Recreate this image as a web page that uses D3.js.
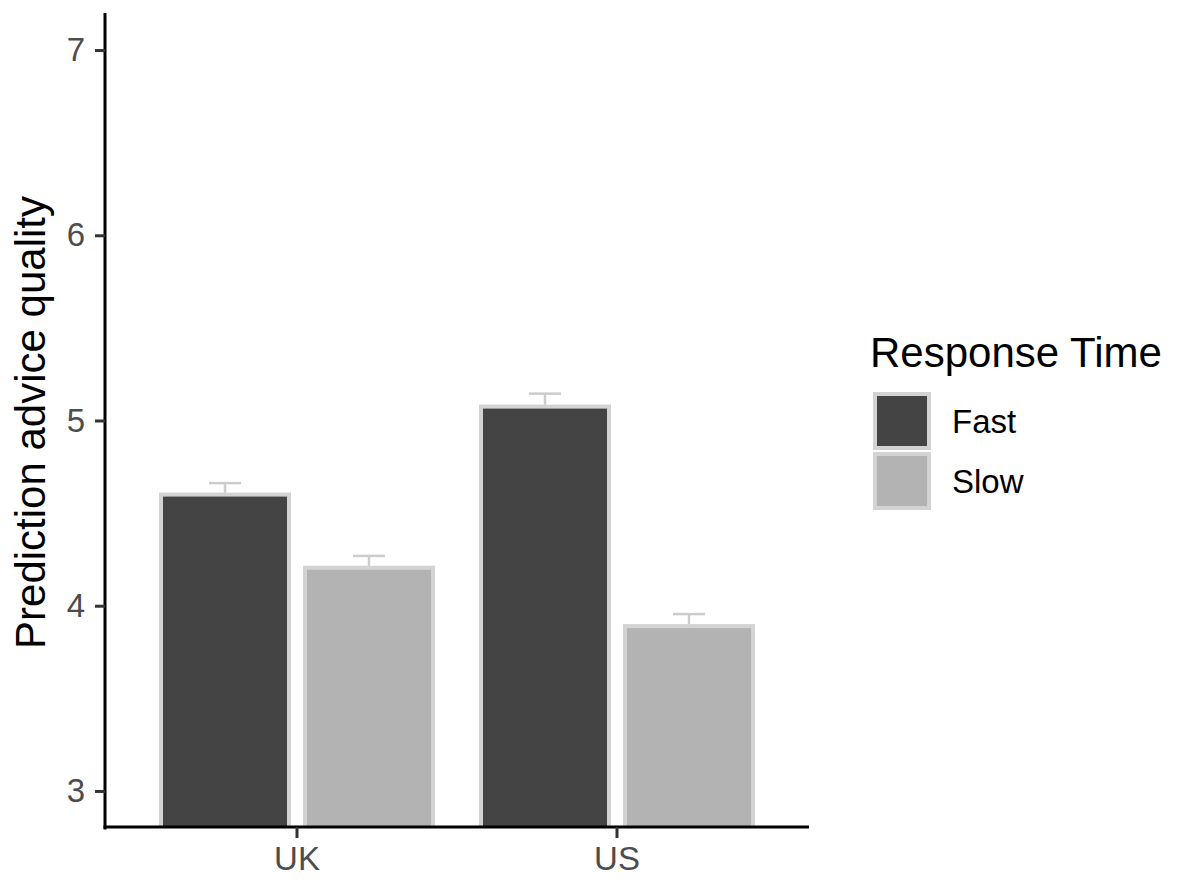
<!DOCTYPE html>
<html>
<head>
<meta charset="utf-8">
<script src="https://cdn.jsdelivr.net/npm/d3@7"></script>
<style>
  body { margin: 0; background: #fff; }
  text { font-family: "Liberation Sans", Arial, Helvetica, sans-serif; }
</style>
</head>
<body>
<svg id="chart" width="1200" height="890"></svg>
<script>
const countries = ["UK", "US"];
const responseTimes = ["Fast", "Slow"];
const meanFast = [4.60, 5.075];
const meanSlow = [4.205, 3.89];
const upperFast = [4.662, 5.145];
const upperSlow = [4.269, 3.955];
const yTicks = [3, 4, 5, 6, 7];

(function () {
const fills = { Fast: "#444444", Slow: "#b3b3b3" };
const outline = "#d3d3d3";

const data = [];
countries.forEach((c, i) => {
  data.push({ country: c, rt: "Fast", mean: meanFast[i], upper: upperFast[i] });
  data.push({ country: c, rt: "Slow", mean: meanSlow[i], upper: upperSlow[i] });
});

const svg = d3.select("#chart");
const pLeft = 105, pRight = 809, pTop = 13, pBottom = 828;

const x = d3.scaleBand().domain(countries).range([pLeft, pRight])
  .paddingInner(0.1).paddingOuter(0.15);
const xInner = d3.scaleBand().domain(responseTimes).range([0, x.bandwidth()])
  .paddingInner(1 / 9).paddingOuter(1 / 18);
const y = d3.scaleLinear().domain([2.8, 7.2]).range([pBottom, pTop]);

svg.append("defs").append("clipPath").attr("id", "panel")
  .append("rect").attr("x", pLeft).attr("y", pTop).attr("width", pRight - pLeft).attr("height", pBottom - pTop);

const panel = svg.append("g").attr("clip-path", "url(#panel)");

// error bars (upper part)
const eb = panel.append("g").selectAll("g").data(data).join("g");
eb.each(function (d) {
  const g = d3.select(this);
  const cx = x(d.country) + xInner(d.rt) + xInner.bandwidth() / 2;
  const hw = xInner.bandwidth() * 0.125;
  g.append("line").attr("x1", cx).attr("x2", cx).attr("y1", y(d.mean)).attr("y2", y(d.upper))
    .attr("stroke", "#cccccc").attr("stroke-width", 2.5);
  g.append("line").attr("x1", cx - hw).attr("x2", cx + hw).attr("y1", y(d.upper)).attr("y2", y(d.upper))
    .attr("stroke", "#cccccc").attr("stroke-width", 2.5);
});

// bars
panel.append("g").selectAll("rect").data(data).join("rect")
  .attr("x", d => x(d.country) + xInner(d.rt))
  .attr("width", xInner.bandwidth())
  .attr("y", d => y(d.mean))
  .attr("height", d => y(2.8) - y(d.mean) + 10)
  .attr("fill", d => fills[d.rt])
  .attr("stroke", outline)
  .attr("stroke-width", 4);

// y axis
const yAxis = svg.append("g").attr("transform", `translate(${pLeft},0)`)
  .call(d3.axisLeft(y).tickValues(yTicks).tickFormat(d3.format("d")).tickSize(10).tickPadding(10));
yAxis.select(".domain").attr("d", `M0,${pTop}V${pBottom + 1.5}`).attr("stroke", "#000").attr("stroke-width", 3);
yAxis.selectAll(".tick line").attr("stroke", "#333").attr("stroke-width", 3);
yAxis.selectAll(".tick text").attr("fill", "#4d4d4d").style("font-size", "33px");

// x axis
const xAxis = svg.append("g").attr("transform", `translate(0,${pBottom - 1})`)
  .call(d3.axisBottom(x).tickSize(11).tickPadding(9));
xAxis.select(".domain").attr("d", `M${pLeft - 1.5},0H${pRight}`).attr("stroke", "#000").attr("stroke-width", 3);
xAxis.selectAll(".tick line").attr("stroke", "#333").attr("stroke-width", 3);
xAxis.selectAll(".tick text").attr("fill", "#4d4d4d").style("font-size", "33px");

// y title
svg.append("text")
  .attr("transform", `translate(45,${(pTop + pBottom) / 2 + 2}) rotate(-90)`)
  .attr("text-anchor", "middle")
  .attr("fill", "#000")
  .style("font-size", "42px")
  .text("Prediction advice quality");

// legend
const lg = svg.append("g");
lg.append("text").attr("x", 870).attr("y", 367).style("font-size", "42px").attr("fill", "#000")
  .text("Response Time");
responseTimes.forEach((rt, i) => {
  const ky = 394 + i * 60;
  lg.append("rect").attr("x", 875).attr("y", ky).attr("width", 54).attr("height", 54)
    .attr("fill", fills[rt]).attr("stroke", outline).attr("stroke-width", 4);
  lg.append("text").attr("x", 952).attr("y", ky + 39).style("font-size", "33px").attr("fill", "#000")
    .text(rt);
});
})();
</script>
</body>
</html>
